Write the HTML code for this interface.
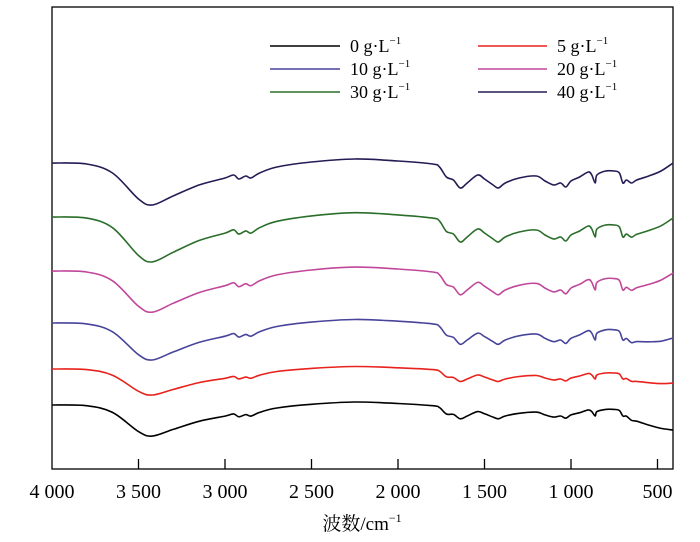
<!DOCTYPE html>
<html><head><meta charset="utf-8"><style>
html,body{margin:0;padding:0;background:#fff;}
svg{display:block;}
text{font-family:"Liberation Serif","Noto Serif CJK SC",serif;fill:#000;}
</style></head><body>
<svg id="s" width="700" height="542" viewBox="0 0 700 542">
<rect x="52" y="7" width="621" height="462" fill="none" stroke="#000" stroke-width="1.3"/>
<g stroke="#000" stroke-width="1.3">
<line x1="138.5" y1="469" x2="138.5" y2="459"/><line x1="225" y1="469" x2="225" y2="459"/>
<line x1="311.5" y1="469" x2="311.5" y2="459"/><line x1="398" y1="469" x2="398" y2="459"/>
<line x1="484.5" y1="469" x2="484.5" y2="459"/><line x1="571" y1="469" x2="571" y2="459"/>
<line x1="657.5" y1="469" x2="657.5" y2="459"/>
</g>
<g font-size="20" text-anchor="middle">
<text x="52" y="498">4 000</text><text x="138.5" y="498">3 500</text><text x="225" y="498">3 000</text>
<text x="311.5" y="498">2 500</text><text x="398" y="498">2 000</text><text x="484.5" y="498">1 500</text>
<text x="571" y="498">1 000</text><text x="657.5" y="498">500</text>
</g>
<text x="362" y="530" font-size="19" text-anchor="middle">波数/cm<tspan font-size="12" dy="-8">−1</tspan></text>
<g stroke-width="1.5">
<line x1="270" y1="46" x2="340" y2="46" stroke="#000"/>
<line x1="478" y1="46" x2="547" y2="46" stroke="#e8221c"/>
<line x1="270" y1="69" x2="340" y2="69" stroke="#47449a"/>
<line x1="478" y1="69" x2="547" y2="69" stroke="#c0479a"/>
<line x1="270" y1="92" x2="340" y2="92" stroke="#2a6e2a"/>
<line x1="478" y1="92" x2="547" y2="92" stroke="#231c55"/>
</g>
<g font-size="18">
<text x="350" y="52">0 g·L<tspan font-size="11" dy="-8">−1</tspan></text>
<text x="557" y="52">5 g·L<tspan font-size="11" dy="-8">−1</tspan></text>
<text x="350" y="75">10 g·L<tspan font-size="11" dy="-8">−1</tspan></text>
<text x="557" y="75">20 g·L<tspan font-size="11" dy="-8">−1</tspan></text>
<text x="350" y="98">30 g·L<tspan font-size="11" dy="-8">−1</tspan></text>
<text x="557" y="98">40 g·L<tspan font-size="11" dy="-8">−1</tspan></text>
</g>
<g id="curves" fill="none" stroke-width="1.6" stroke-linejoin="round"></g>
</svg>
<script>
var T=[[4000,0],[3800,1],[3650,10],[3500,36],[3420,42],[3300,33],[3150,22],[3000,15],[2950,12],[2920,16],[2880,13],[2850,15],[2800,10],[2700,4],[2500,-1],[2250,-4],[2000,-2],[1800,1],[1760,4],[1720,14],[1680,17],[1640,25],[1600,20],[1540,12],[1500,16],[1450,22],[1420,25],[1380,20],[1300,15],[1200,13],[1150,18],[1100,22],[1060,20],[1030,24],[1000,18],[950,14],[900,9],[880,12],[860,20],[850,12],[800,8],[750,8],[720,10],[700,20],[680,17],[650,20],[620,17],[550,13],[480,8],[410,0]];
var C=[[405,0.74,0.55,25,"#000"],[369,0.62,0.5,14,"#e8221c"],[323,0.88,0.85,15,"#47449a"],[271,0.98,0.95,2,"#c0479a"],[217,1.07,1.0,1,"#2a6e2a"],[163,1.0,1.0,0,"#231c55"]];
function X(w){return 52+(4000-w)*0.173;}
var g=document.getElementById('curves'),h='';
C.forEach(function(c){
 var pts=T.map(function(p){var w=p[0],d=p[1];var s=w<1800?c[2]:c[1];if(w<1800&&w>1700)s=(c[1]+c[2])/2;
  var tail=w<700?c[3]*(700-w)/290:0;return [X(w),c[0]+d*s+tail];});
 var d='M'+pts[0][0].toFixed(1)+','+pts[0][1].toFixed(1);
 for(var i=0;i<pts.length-1;i++){var p0=pts[i-1]||pts[i],p1=pts[i],p2=pts[i+1],p3=pts[i+2]||p2;
  d+=' C'+(p1[0]+(p2[0]-p0[0])/6).toFixed(1)+','+(p1[1]+(p2[1]-p0[1])/6).toFixed(1)+' '+(p2[0]-(p3[0]-p1[0])/6).toFixed(1)+','+(p2[1]-(p3[1]-p1[1])/6).toFixed(1)+' '+p2[0].toFixed(1)+','+p2[1].toFixed(1);}
 h+='<path d="'+d+'" stroke="'+c[4]+'"/>';
});
g.innerHTML=h;
</script>
</body></html>
